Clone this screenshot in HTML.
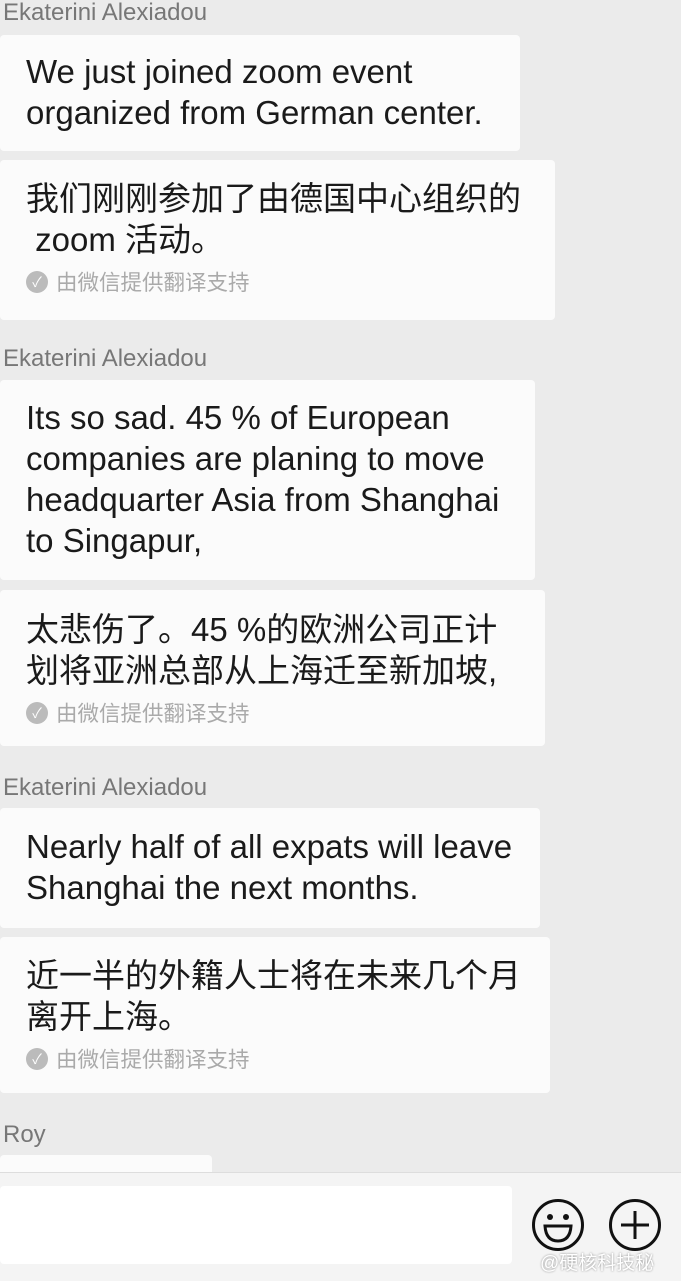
<!DOCTYPE html>
<html><head><meta charset="utf-8">
<style>
html,body{margin:0;padding:0}
body{width:681px;height:1280px;background:#ebebeb;position:relative;overflow:hidden;font-family:"Liberation Sans","Noto Sans CJK SC",sans-serif;color:#111}
.name{position:absolute;left:3px;font-size:24px;color:#777}
.bub{position:absolute;left:0;background:#fbfbfb;border-radius:4px;box-sizing:border-box;padding:0 0 0 26px}
.t{font-size:33px;line-height:41px;color:#1a1a1a;white-space:nowrap}
.note{font-size:21.5px;color:#aaa;display:flex;align-items:center;margin-top:6px}
.chk{width:22px;height:22px;border-radius:50%;background:#bbb;color:#fff;font-size:14px;display:inline-flex;align-items:center;justify-content:center;margin-right:8px}
</style></head><body>
<div class="name" style="top:-1px">Ekaterini Alexiadou</div>
<div class="bub" style="top:35px;width:520px;height:116px;padding-top:16px"><div class="t">We just joined zoom event<br>organized from German center.</div></div>
<div class="bub" style="top:160px;width:555px;height:160px;padding-top:18px"><div class="t">我们刚刚参加了由德国中心组织的<br>&nbsp;zoom 活动。</div><div class="note"><span class="chk">✓</span>由微信提供翻译支持</div></div>

<div class="name" style="top:345px">Ekaterini Alexiadou</div>
<div class="bub" style="top:380px;width:535px;height:200px;padding-top:17px"><div class="t">Its so sad. 45 % of European<br>companies are planing to move<br>headquarter Asia from Shanghai<br>to Singapur,</div></div>
<div class="bub" style="top:590px;width:545px;height:156px;padding-top:19px"><div class="t">太悲伤了。45 %的欧洲公司正计<br>划将亚洲总部从上海迁至新加坡,</div><div class="note"><span class="chk">✓</span>由微信提供翻译支持</div></div>

<div class="name" style="top:774px">Ekaterini Alexiadou</div>
<div class="bub" style="top:808px;width:540px;height:120px;padding-top:18px"><div class="t">Nearly half of all expats will leave<br>Shanghai the next months.</div></div>
<div class="bub" style="top:937px;width:550px;height:156px;padding-top:18px"><div class="t">近一半的外籍人士将在未来几个月<br>离开上海。</div><div class="note"><span class="chk">✓</span>由微信提供翻译支持</div></div>

<div class="name" style="top:1121px">Roy</div>
<div class="bub" style="top:1155px;width:212px;height:30px"></div>

<div style="position:absolute;left:0;top:1172px;width:681px;height:108px;background:#f4f4f4;border-top:1px solid #ddd"></div>
<div style="position:absolute;left:0;top:1186px;width:512px;height:78px;background:#fff;border-radius:4px"></div>
<svg style="position:absolute;left:530px;top:1197px" width="56" height="56" viewBox="0 0 56 56">
<circle cx="28" cy="28" r="24.5" fill="none" stroke="#111" stroke-width="3"/>
<circle cx="20" cy="20" r="3" fill="#111"/><circle cx="36" cy="20" r="3" fill="#111"/>
<path d="M15 29 H41 Q40 44 28 44 Q16 44 15 29 Z" fill="none" stroke="#111" stroke-width="3"/>
</svg>
<svg style="position:absolute;left:607px;top:1197px" width="56" height="56" viewBox="0 0 56 56">
<circle cx="28" cy="28" r="24.5" fill="none" stroke="#111" stroke-width="3"/>
<path d="M14 28 H42 M28 14 V42" stroke="#111" stroke-width="3"/>
</svg>
<div style="position:absolute;left:540px;top:1248px;font-size:19px;color:#fff;text-shadow:0 0 2px #888">@硬核科技秘</div>
</body></html>
